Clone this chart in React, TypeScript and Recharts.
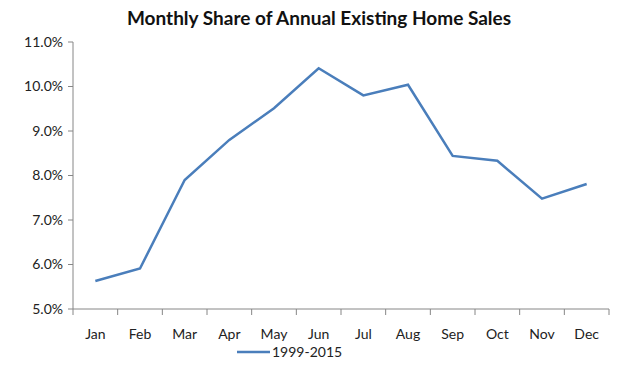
import { LineChart, Line, XAxis, YAxis } from "recharts";

// --- chart data ---
const months = ["Jan", "Feb", "Mar", "Apr", "May", "Jun", "Jul", "Aug", "Sep", "Oct", "Nov", "Dec"];
const share = [5.63, 5.91, 7.9, 8.8, 9.51, 10.41, 9.8, 10.04, 8.44, 8.33, 7.48, 7.81];
const yTicks = [5, 6, 7, 8, 9, 10, 11];
const seriesName = "1999-2015";

const W = 621;
const H = 372;
const LEFT = 73;
const RIGHT = 12;
const FONT = "Lato, 'Open Sans', sans-serif";
const AXIS = "#868686";
const BLUE = "#4a7ebb";

const data = months.map((m, i) => ({ month: m, share: share[i] }));
const half = (W - LEFT - RIGHT) / months.length / 2;

// Excel style tick marks sit between categories, not under them
const MonthTick = (props: any) => {
  const { x, y, payload, index } = props;
  return (
    <g>
      <line x1={x - half} x2={x - half} y1={y - 8} y2={y - 2} stroke={AXIS} />
      {index === months.length - 1 && (
        <line x1={x + half} x2={x + half} y1={y - 8} y2={y - 2} stroke={AXIS} />
      )}
      <text x={x} y={y + 22} textAnchor="middle" fill="#222" fontSize={14} fontFamily={FONT}>
        {payload.value}
      </text>
    </g>
  );
};

export default function App() {
  return (
    <div style={{ position: "relative", width: W, height: H, background: "#fff" }}>
      <style>{`body{margin:0}`}</style>
      <div
        style={{
          position: "absolute",
          top: 6,
          left: 0,
          width: 638,
          textAlign: "center",
          fontFamily: FONT,
          fontWeight: 700,
          fontSize: 19,
          color: "#111",
        }}
      >
        Monthly Share of Annual Existing Home Sales
      </div>
      <LineChart width={W} height={H} data={data} margin={{ top: 42, right: RIGHT, left: 0, bottom: 0 }}>
        <XAxis
          dataKey="month"
          scale="band"
          height={63}
          axisLine={{ stroke: AXIS }}
          tickLine={false}
          tick={<MonthTick />}
          interval={0}
        />
        <YAxis
          width={LEFT}
          domain={[5, 11]}
          ticks={yTicks}
          interval={0}
          axisLine={{ stroke: AXIS }}
          tickLine={{ stroke: AXIS }}
          tickSize={5}
          tickMargin={5}
          tickFormatter={(v: number) => `${v.toFixed(1)}%`}
          tick={{ fill: "#222", fontSize: 14, fontFamily: FONT }}
        />
        <Line
          dataKey="share"
          name={seriesName}
          stroke={BLUE}
          strokeWidth={2.5}
          dot={false}
          isAnimationActive={false}
        />
      </LineChart>
      <svg style={{ position: "absolute", left: 233, top: 342 }} width={130} height={20}>
        <line x1={4} x2={37} y1={10} y2={10} stroke={BLUE} strokeWidth={2.5} />
        <text x={39} y={15} fontSize={14} fill="#222" fontFamily={FONT}>
          {seriesName}
        </text>
      </svg>
    </div>
  );
}
